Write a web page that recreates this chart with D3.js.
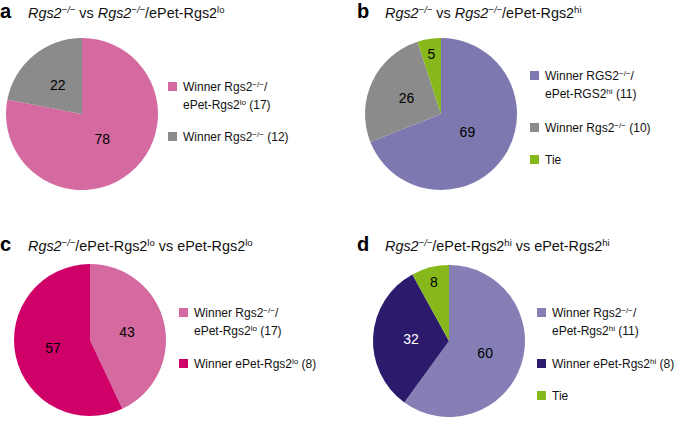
<!DOCTYPE html>
<html><head><meta charset="utf-8">
<script src="https://cdn.jsdelivr.net/npm/d3@7"></script>
<style>
html,body{margin:0;padding:0;background:#fff;}
svg text{font-family:"Liberation Sans",Arial,Helvetica,sans-serif;}
</style></head>
<body><svg id="c" width="685" height="423"></svg>
<script>
// ---- data ----
const panelLetters = ["a", "b", "c", "d"];
const valuesA = [78, 22];
const valuesB = [69, 26, 5];
const valuesC = [43, 57];
const valuesD = [60, 32, 8];
// title segments: [text, style]  (i = italic, sup = superscript)
const titleA = [["Rgs2","i"],["−/−","isup"],[" vs ",""],["Rgs2","i"],["−/−","isup"],["/ePet-Rgs2",""],["lo","sup"]];
const titleB = [["Rgs2","i"],["−/−","isup"],[" vs ",""],["Rgs2","i"],["−/−","isup"],["/ePet-Rgs2",""],["hi","sup"]];
const titleC = [["Rgs2","i"],["−/−","isup"],["/ePet-Rgs2",""],["lo","sup"],[" vs ePet-Rgs2",""],["lo","sup"]];
const titleD = [["Rgs2","i"],["−/−","isup"],["/ePet-Rgs2",""],["hi","sup"],[" vs ePet-Rgs2",""],["hi","sup"]];
// legend entries: each is a list of lines, each line a list of segments
const legendA = [
  [[["Winner Rgs2",""],["−/−","sup"],["/",""]],[["ePet-Rgs2",""],["lo","sup"],[" (17)",""]]],
  [[["Winner Rgs2",""],["−/−","sup"],[" (12)",""]]]
];
const legendB = [
  [[["Winner RGS2",""],["−/−","sup"],["/",""]],[["ePet-RGS2",""],["hi","sup"],[" (11)",""]]],
  [[["Winner Rgs2",""],["−/−","sup"],[" (10)",""]]],
  [[["Tie",""]]]
];
const legendC = [
  [[["Winner Rgs2",""],["−/−","sup"],["/",""]],[["ePet-Rgs2",""],["lo","sup"],[" (17)",""]]],
  [[["Winner ePet-Rgs2",""],["lo","sup"],[" (8)",""]]]
];
const legendD = [
  [[["Winner Rgs2",""],["−/−","sup"],["/",""]],[["ePet-Rgs2",""],["hi","sup"],[" (11)",""]]],
  [[["Winner ePet-Rgs2",""],["hi","sup"],[" (8)",""]]],
  [[["Tie",""]]]
];
const colorsA = ["#d46a9f", "#8b8b8b"];
const colorsB = ["#7e78b0", "#8b8b8b", "#87b81b"];
const colorsC = ["#d46a9f", "#cf0068"];
const colorsD = ["#857fb5", "#2c1b6c", "#87b81b"];
const labelColorsD = ["#000", "#fff", "#000"];

// ---- layout ----
const R = 76;
const layout = [
  {cx: 82,  cy: 114, lx: 0,   ty: 18,  legX: 168, legY: [91, 141]},
  {cx: 441, cy: 114, lx: 357, ty: 18,  legX: 530, legY: [80, 132, 164]},
  {cx: 90,  cy: 340, lx: 0,   ty: 251, legX: 179, legY: [317, 368]},
  {cx: 449, cy: 341, lx: 357, ty: 251, legX: 537, legY: [317, 368, 400]}
];
const panelsData = [
  {values: valuesA, colors: colorsA, title: titleA, legend: legendA},
  {values: valuesB, colors: colorsB, title: titleB, legend: legendB},
  {values: valuesC, colors: colorsC, title: titleC, legend: legendC},
  {values: valuesD, colors: colorsD, title: titleD, legend: legendD, labelColors: labelColorsD}
];

const svg = d3.select("#c");
const pie = d3.pie().sort(null).value(d => d);
const arc = d3.arc().innerRadius(0).outerRadius(R);

function addSegments(textSel, segs, baseSize, supSize) {
  segs.forEach(([t, st]) => {
    const ts = textSel.append("tspan").text(t);
    if (st.includes("i")) ts.attr("font-style", "italic");
    if (st.includes("sup")) {
      ts.attr("font-size", supSize).attr("baseline-shift", "super");
    }
  });
}

panelsData.forEach((p, i) => {
  const L = layout[i];
  // panel letter
  svg.append("text").attr("x", L.lx).attr("y", L.ty)
    .attr("font-size", 20).attr("font-weight", "bold").text(panelLetters[i]);
  // title
  const tt = svg.append("text").attr("x", L.lx + 28).attr("y", L.ty)
    .attr("font-size", 14.4).attr("fill", "#111");
  addSegments(tt, p.title, 14.4, 9.5);

  // pie
  const g = svg.append("g").attr("transform", `translate(${L.cx},${L.cy})`);
  const arcs = pie(p.values);
  const total = d3.sum(p.values);
  g.selectAll("path").data(arcs).join("path")
    .attr("d", arc).attr("fill", (d, j) => p.colors[j]);
  g.selectAll("text.lbl").data(arcs).join("text").attr("class", "lbl")
    .attr("transform", d => {
      const frac = d.value / total;
      const k = frac < 0.1 ? 0.8 : (frac > 0.65 ? 0.42 : 0.5);
      const a = (d.startAngle + d.endAngle) / 2;
      return `translate(${Math.sin(a) * R * k},${-Math.cos(a) * R * k})`;
    })
    .attr("text-anchor", "middle").attr("dy", "0.36em")
    .attr("font-size", 14)
    .attr("fill", (d, j) => p.labelColors ? p.labelColors[j] : "#000")
    .text(d => d.value);

  // legend
  p.legend.forEach((entry, j) => {
    const y0 = L.legY[j];
    svg.append("rect").attr("x", L.legX).attr("y", y0 - 9)
      .attr("width", 9).attr("height", 9).attr("fill", p.colors[j]);
    entry.forEach((line, li) => {
      const t = svg.append("text").attr("x", L.legX + 15).attr("y", y0 + li * 17.5)
        .attr("font-size", 12).attr("fill", "#111");
      addSegments(t, line, 12, 8);
    });
  });
});
</script>
</body></html>
